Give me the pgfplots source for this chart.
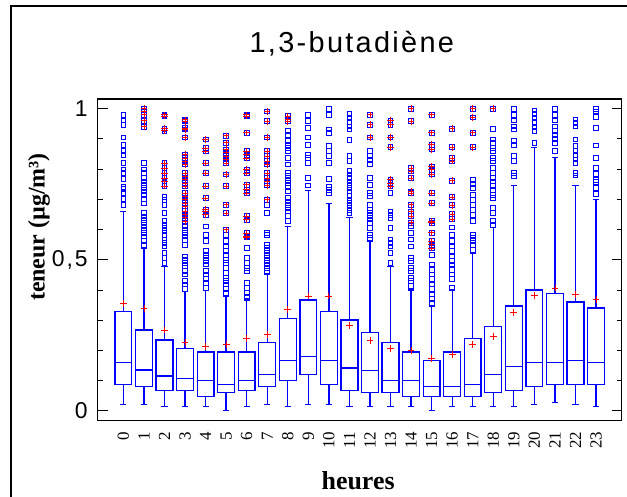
\documentclass[border=0pt]{standalone}
\usepackage{fontspec}
\setmainfont{Liberation Serif}
\newfontfamily\sansls[LetterSpace=8]{Liberation Sans}
\usepackage{pgfplots}
\pgfplotsset{compat=1.18}
\usepgfplotslibrary{statistics}
\definecolor{bxblue}{RGB}{0,0,255}
\definecolor{mred}{RGB}{255,0,0}

\pgfplotsset{
  bx/.style={bxblue, draw=bxblue, line width=1.3bp, mark=square, mark size=2.4bp,
    mark options={draw=bxblue, fill=none, line width=0.9bp, solid}},
  % position, lower whisker, lower quartile, median, upper quartile, upper whisker
  bpp/.style n args={6}{bx, boxplot prepared={draw direction=y, draw position=#1, lower whisker=#2,
    lower quartile=#3, median=#4, upper quartile=#5, upper whisker=#6,
    every whisker/.style={draw=bxblue, line width=1.3bp}}},
  /pgfplots/boxplot/draw/box/.code={%
    \draw[draw=bxblue, line width=1.3bp, fill=none]
      (boxplot box cs:\pgfplotsboxplotvalue{lower quartile},0)
      rectangle
      (boxplot box cs:\pgfplotsboxplotvalue{upper quartile},1);
  },
  /pgfplots/boxplot/draw/median/.code={%
    \draw[draw=bxblue, line width=1.3bp]
      (boxplot box cs:\pgfplotsboxplotvalue{median},0)
      --
      (boxplot box cs:\pgfplotsboxplotvalue{median},1);
  },
}

\begin{document}
\begin{tikzpicture}
\useasboundingbox (0bp,0bp) rectangle (627bp,497bp);
\draw[line width=1.6bp] (11bp,-2bp) -- (11bp,491bp) -- (630bp,491bp);
\begin{axis}[
  at={(97.7bp,76.3bp)}, anchor=south west, scale only axis,
  width=524bp, height=321.7bp,
  xmin=-1.25, xmax=24.25, ymin=-0.033, ymax=1.032,
  clip=false,
  axis line style={line width=1.5bp},
  xtick={0,...,23},
  xticklabels={0,1,2,3,4,5,6,7,8,9,10,11,12,13,14,15,16,17,18,19,20,21,22,23},
  xtick style={draw=none},
  ytick style={line width=0.8bp, draw=black},
  xticklabel style={rotate=90, anchor=east, inner sep=0pt, font=\fontsize{17}{17}\selectfont},
  xticklabel shift=11bp,
  ytick={0,0.5,1}, yticklabels={0,{0,5},1},
  yticklabel style={anchor=east, inner sep=0pt, font=\sansls\fontsize{23}{23}\selectfont},
  yticklabel shift=10bp,
  ytick pos=both,
  minor y tick num=4,
  tick align=inside,
  major tick length=10bp, minor tick length=5bp,
  /pgf/number format/assume math mode=true,
  title={1,3-butadiène},
  title style={at={(axis description cs:0.485,1.125)}, anchor=base, inner sep=0pt,
    font=\sansls\fontsize{29}{29}\selectfont},
  xlabel={heures},
  xlabel style={at={(axis description cs:0.497,-0.215)}, anchor=base, inner sep=0pt,
    font=\bfseries\fontsize{26}{26}\selectfont},
  ylabel={teneur (µg/m³)},
  ylabel style={at={(axis description cs:-0.112,0.602)}, anchor=center, rotate=0, inner sep=0pt,
    font=\bfseries\fontsize{24}{24}\selectfont},
  boxplot/draw direction=y,
  boxplot/box extend=0.82,
  boxplot/whisker extend=0.3,
]
\addplot[bpp={0}{0.021}{0.0875}{0.160}{0.328}{0.660}] table[row sep=\\, y index=0] {y\\0.980\\0.961\\0.947\\0.905\\0.879\\0.859\\0.846\\0.819\\0.799\\0.786\\0.766\\0.742\\0.733\\0.720\\0.700\\0.680\\};
\addplot[bpp={1}{0.021}{0.081}{0.135}{0.267}{0.538}] table[row sep=\\, y index=0] {y\\0.819\\0.799\\0.786\\0.770\\0.759\\0.748\\0.737\\0.726\\0.715\\0.700\\0.686\\0.654\\0.643\\0.632\\0.621\\0.610\\0.599\\0.588\\0.577\\0.561\\0.550\\};
\addplot[bpp={2}{0.015}{0.068}{0.115}{0.234}{0.477}] table[row sep=\\, y index=0] {y\\0.709\\0.698\\0.682\\0.654\\0.627\\0.616\\0.605\\0.594\\0.583\\0.566\\0.555\\0.544\\0.522\\0.506\\0.489\\};
\addplot[bpp={3}{0.015}{0.068}{0.107}{0.207}{0.395}] table[row sep=\\, y index=0] {y\\0.610\\0.599\\0.588\\0.577\\0.566\\0.550\\0.511\\0.500\\0.489\\0.478\\0.462\\0.451\\0.429\\0.418\\0.402\\};
\addplot[bpp={4}{0.015}{0.048}{0.101}{0.194}{0.398}] table[row sep=\\, y index=0] {y\\0.610\\0.583\\0.561\\0.528\\0.517\\0.506\\0.495\\0.484\\0.462\\0.451\\0.435\\0.424\\0.407\\};
\addplot[bpp={5}{0.000}{0.061}{0.0875}{0.194}{0.378}] table[row sep=\\, y index=0] {y\\0.583\\0.561\\0.544\\0.528\\0.517\\0.500\\0.489\\0.473\\0.456\\0.440\\0.429\\0.418\\0.402\\0.391\\};
\addplot[bpp={6}{0.015}{0.068}{0.101}{0.194}{0.367}] table[row sep=\\, y index=0] {y\\0.539\\0.506\\0.489\\0.473\\0.462\\0.423\\0.407\\0.390\\0.378\\};
\addplot[bpp={7}{0.021}{0.081}{0.121}{0.227}{0.450}] table[row sep=\\, y index=0] {y\\0.680\\0.654\\0.588\\0.583\\0.550\\0.539\\0.528\\0.517\\0.506\\0.495\\0.484\\0.473\\0.462\\};
\addplot[bpp={8}{0.015}{0.101}{0.167}{0.306}{0.610}] table[row sep=\\, y index=0] {y\\0.925\\0.914\\0.892\\0.881\\0.870\\0.859\\0.837\\0.815\\0.787\\0.776\\0.765\\0.754\\0.743\\0.726\\0.704\\0.693\\0.682\\0.671\\0.660\\0.644\\0.627\\};
\addplot[bpp={9}{0.021}{0.121}{0.180}{0.367}{0.728}] table[row sep=\\, y index=0] {y\\0.980\\0.958\\0.936\\0.905\\0.881\\0.848\\0.837\\0.820\\0.770\\0.746\\};
\addplot[bpp={10}{0.021}{0.0875}{0.167}{0.328}{0.687}] table[row sep=\\, y index=0] {y\\1.000\\0.980\\0.931\\0.920\\0.876\\0.859\\0.843\\0.820\\0.768\\0.742\\0.732\\0.721\\};
\addplot[bpp={11}{0.015}{0.068}{0.141}{0.300}{0.639}] table[row sep=\\, y index=0] {y\\0.982\\0.969\\0.956\\0.941\\0.931\\0.897\\0.843\\0.826\\0.793\\0.782\\0.770\\0.759\\0.748\\0.737\\0.726\\0.710\\0.699\\0.688\\0.677\\0.666\\0.655\\};
\addplot[bpp={12}{0.015}{0.061}{0.134}{0.260}{0.561}] table[row sep=\\, y index=0] {y\\0.861\\0.843\\0.832\\0.815\\0.770\\0.748\\0.721\\0.710\\0.682\\0.666\\0.655\\0.644\\0.633\\0.622\\0.606\\0.583\\0.572\\};
\addplot[bpp={13}{0.015}{0.061}{0.101}{0.227}{0.477}] table[row sep=\\, y index=0] {y\\0.721\\0.660\\0.649\\0.638\\0.606\\0.567\\0.556\\0.544\\0.522\\0.489\\};
\addplot[bpp={14}{0.015}{0.048}{0.101}{0.194}{0.400}] table[row sep=\\, y index=0] {y\\0.611\\0.589\\0.567\\0.544\\0.506\\0.495\\0.473\\0.462\\0.440\\0.429\\0.413\\};
\addplot[bpp={15}{0.000}{0.048}{0.081}{0.167}{0.345}] table[row sep=\\, y index=0] {y\\0.517\\0.484\\0.467\\0.451\\0.435\\0.418\\0.402\\0.385\\0.370\\0.358\\};
\addplot[bpp={16}{0.015}{0.048}{0.081}{0.194}{0.400}] table[row sep=\\, y index=0] {y\\0.607\\0.583\\0.561\\0.544\\0.528\\0.511\\0.495\\0.484\\0.467\\0.451\\0.435\\0.407\\};
\addplot[bpp={17}{0.015}{0.048}{0.0875}{0.240}{0.522}] table[row sep=\\, y index=0] {y\\0.765\\0.751\\0.737\\0.715\\0.699\\0.682\\0.666\\0.649\\0.627\\0.583\\0.572\\0.561\\0.550\\0.533\\};
\addplot[bpp={18}{0.015}{0.061}{0.121}{0.280}{0.606}] table[row sep=\\, y index=0] {y\\0.934\\0.898\\0.887\\0.870\\0.859\\0.837\\0.826\\0.804\\0.787\\0.770\\0.759\\0.743\\0.732\\0.715\\0.704\\0.671\\0.655\\0.627\\0.616\\};
\addplot[bpp={19}{0.015}{0.068}{0.147}{0.347}{0.746}] table[row sep=\\, y index=0] {y\\1.000\\0.980\\0.961\\0.941\\0.931\\0.892\\0.881\\0.843\\0.826\\0.787\\0.776\\};
\addplot[bpp={20}{0.021}{0.081}{0.160}{0.400}{0.872}] table[row sep=\\, y index=0] {y\\0.994\\0.983\\0.969\\0.956\\0.938\\0.927\\0.887\\};
\addplot[bpp={21}{0.028}{0.0875}{0.160}{0.387}{0.839}] table[row sep=\\, y index=0] {y\\1.000\\0.980\\0.961\\0.941\\0.927\\0.914\\0.901\\0.887\\0.859\\};
\addplot[bpp={22}{0.021}{0.0875}{0.167}{0.360}{0.746}] table[row sep=\\, y index=0] {y\\0.964\\0.953\\0.941\\0.898\\0.876\\0.859\\0.846\\0.832\\0.820\\0.787\\0.779\\};
\addplot[bpp={23}{0.015}{0.0875}{0.160}{0.340}{0.700}] table[row sep=\\, y index=0] {y\\1.000\\0.991\\0.972\\0.937\\0.878\\0.837\\0.804\\0.785\\0.763\\0.757\\0.737\\0.718\\};

% far outliers (square with red cross)
\pgfplotstableread{
x y
1 1.000
1 0.990
1 0.980
1 0.960
1 0.940
2 0.980
2 0.975
2 0.934
2 0.927
2 0.819
2 0.804
2 0.787
2 0.770
2 0.759
2 0.743
3 0.963
3 0.958
3 0.936
3 0.931
3 0.905
3 0.848
3 0.837
3 0.826
3 0.815
3 0.787
3 0.776
3 0.765
3 0.754
3 0.743
3 0.721
3 0.710
3 0.699
3 0.688
3 0.677
3 0.661
3 0.650
3 0.639
3 0.627
4 0.898
4 0.870
4 0.859
4 0.820
4 0.787
4 0.743
4 0.704
4 0.666
4 0.660
4 0.649
5 0.910
5 0.887
5 0.865
5 0.854
5 0.843
5 0.832
5 0.820
5 0.782
5 0.743
5 0.682
5 0.654
5 0.599
6 0.980
6 0.975
6 0.920
6 0.859
6 0.848
6 0.837
6 0.798
6 0.787
6 0.748
6 0.732
6 0.721
6 0.644
6 0.632
6 0.588
6 0.577
6 0.575
7 0.991
7 0.958
7 0.905
7 0.859
7 0.843
7 0.826
7 0.815
7 0.787
7 0.770
7 0.759
7 0.746
7 0.699
8 0.975
8 0.964
8 0.958
12 0.980
12 0.947
12 0.905
13 0.961
13 0.947
13 0.905
13 0.872
13 0.765
13 0.754
13 0.743
14 1.000
14 0.958
14 0.804
14 0.793
14 0.770
14 0.726
14 0.721
14 0.682
14 0.660
14 0.644
14 0.622
15 0.980
15 0.920
15 0.881
15 0.865
15 0.809
15 0.798
15 0.782
15 0.721
15 0.688
15 0.627
15 0.622
15 0.589
15 0.561
15 0.550
15 0.539
16 0.934
16 0.872
16 0.837
16 0.826
16 0.762
16 0.707
16 0.680
16 0.651
16 0.634
17 1.000
17 0.971
17 0.920
17 0.872
18 1.000
}\faroutliers
\addplot[bxblue, only marks, mark=square, mark size=2.4bp, mark options={draw=bxblue, fill=none, line width=0.9bp}] table[x=x,y=y] {\faroutliers};
\addplot[mred, only marks, mark=+, mark size=3.2bp, mark options={draw=mred, line width=0.7bp}] table[x=x,y=y] {\faroutliers};

% means
\addplot[mred, only marks, mark=+, mark size=3.4bp, mark options={draw=mred, line width=0.8bp}] coordinates {
(0,0.354) (1,0.339) (2,0.267) (3,0.227) (4,0.213) (5,0.220) (6,0.240) (7,0.253)
(8,0.334) (9,0.380) (10,0.380) (11,0.282) (12,0.232) (13,0.206) (14,0.200) (15,0.174)
(16,0.187) (17,0.218) (18,0.245) (19,0.325) (20,0.381) (21,0.406) (22,0.386) (23,0.367)};
\end{axis}
\end{tikzpicture}
\end{document}
